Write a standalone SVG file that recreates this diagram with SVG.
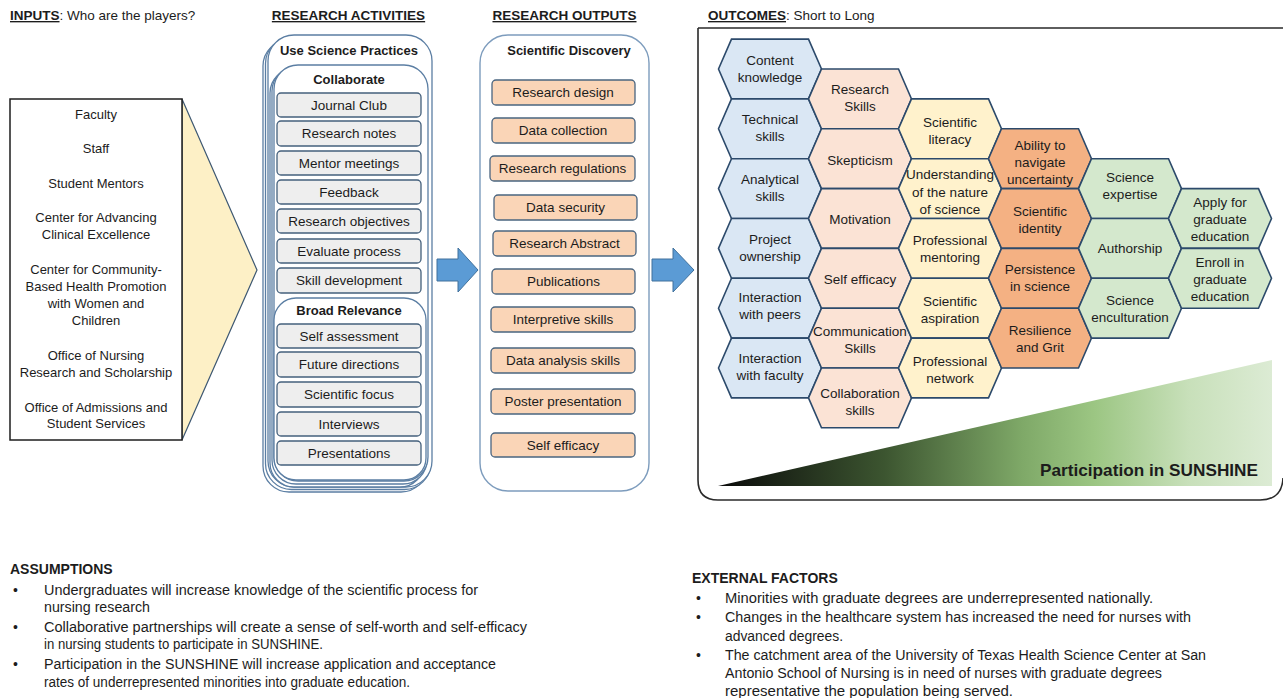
<svg xmlns="http://www.w3.org/2000/svg" xmlns:xlink="http://www.w3.org/1999/xlink" width="1283" height="698" viewBox="0 0 1283 698">
<style>
text{font-family:"Liberation Sans",Arial,sans-serif;fill:#1c1c1c}
.c{text-anchor:middle}
.b{font-weight:bold}
.f13{font-size:13px}
.f135{font-size:13.5px}
.f14{font-size:14px}
.u{text-decoration:underline}
.item{fill:#eeeeee;stroke:#44607c;stroke-width:1.3}
.out{fill:#fad5b7;stroke:#4a6580;stroke-width:1.3}
.frame{fill:#ffffff;stroke:#5b7ea3;stroke-width:1.3}
.hx{stroke:#2c4a6b;stroke-width:1.6}
.blue{fill:#dae7f4}
.peach{fill:#fbe3d5}
.yel{fill:#fff2cc}
.org{fill:#f4b183}
.grn{fill:#d4e8cd}
.arrow{fill:#5b9bd5;stroke:#41719c;stroke-width:1}
</style>
<defs>
<path id="hex" d="M-51.5,0 L-38.5,-29.9 L38.5,-29.9 L51.5,0 L38.5,29.9 L-38.5,29.9 Z"/>
<linearGradient id="ramp" gradientUnits="userSpaceOnUse" x1="718" y1="0" x2="1272" y2="0">
<stop offset="0" stop-color="#0a0a0a"/>
<stop offset="0.3" stop-color="#3c5530"/>
<stop offset="0.55" stop-color="#7fa968"/>
<stop offset="0.68" stop-color="#9cc683"/>
<stop offset="0.85" stop-color="#c8e0ba"/>
<stop offset="1" stop-color="#dcebd4"/>
</linearGradient>
</defs>
<rect width="1283" height="698" fill="#ffffff"/>

<!-- Titles -->
<text x="10" y="20" class="f135"><tspan class="b u">INPUTS</tspan>: Who are the players?</text>
<text x="348.5" y="20" class="f135 b u c">RESEARCH ACTIVITIES</text>
<text x="564.5" y="20" class="f135 b u c">RESEARCH OUTPUTS</text>
<text x="708" y="20" class="f135"><tspan class="b u">OUTCOMES</tspan>: Short to Long</text>

<!-- Inputs -->
<g id="inputs">
<polygon points="182,99 257,270 182,440" fill="#fdf0c6" stroke="#3e5872" stroke-width="1.2"/>
<rect x="10" y="99" width="172" height="341" fill="#ffffff" stroke="#1e1e1e" stroke-width="1.5"/>
<text class="f13 c" x="96" y="118.5">Faculty</text>
<text class="f13 c" x="96" y="152.5">Staff</text>
<text class="f13 c" x="96" y="187.5">Student Mentors</text>
<text class="f13 c" x="96" y="221.5">Center for Advancing</text>
<text class="f13 c" x="96" y="238.5">Clinical Excellence</text>
<text class="f13 c" x="96" y="273.5">Center for Community-</text>
<text class="f13 c" x="96" y="290.5">Based Health Promotion</text>
<text class="f13 c" x="96" y="307.5">with Women and</text>
<text class="f13 c" x="96" y="324.5">Children</text>
<text class="f13 c" x="96" y="359.5">Office of Nursing</text>
<text class="f13 c" x="96" y="376.5">Research and Scholarship</text>
<text class="f13 c" x="96" y="411.5">Office of Admissions and</text>
<text class="f13 c" x="96" y="428">Student Services</text>
</g>

<!-- Research activities -->
<g id="activities">
<rect class="frame" x="263" y="40" width="164" height="452" rx="26"/>
<rect class="frame" x="265.5" y="37.5" width="165" height="452" rx="26"/>
<rect class="frame" x="268" y="35" width="164" height="452" rx="26"/>
<text class="f13 b c" x="349" y="55">Use Science Practices</text>
<rect class="frame" x="270" y="69" width="154" height="418" rx="24"/>
<rect class="frame" x="272" y="67" width="155" height="417" rx="24"/>
<rect class="frame" x="274" y="65" width="154" height="416" rx="24"/>
<text class="f13 b c" x="349" y="84">Collaborate</text>
<rect class="frame" x="274" y="298" width="152" height="182" rx="22"/>
<text class="f13 b c" x="349" y="315">Broad Relevance</text>
</g>
<g id="act-journal-club"><rect class="item" x="277" y="93" width="144" height="24" rx="4"/><text class="f135 c" x="349" y="109.5">Journal Club</text></g>
<g id="act-research-notes"><rect class="item" x="277" y="121" width="144" height="25" rx="4"/><text class="f135 c" x="349" y="138">Research notes</text></g>
<g id="act-mentor-meetings"><rect class="item" x="277" y="151" width="144" height="24" rx="4"/><text class="f135 c" x="349" y="167.5">Mentor meetings</text></g>
<g id="act-feedback"><rect class="item" x="277" y="180" width="144" height="24" rx="4"/><text class="f135 c" x="349" y="196.5">Feedback</text></g>
<g id="act-research-objectives"><rect class="item" x="277" y="209" width="144" height="24" rx="4"/><text class="f135 c" x="349" y="225.5">Research objectives</text></g>
<g id="act-evaluate-process"><rect class="item" x="277" y="239" width="144" height="24" rx="4"/><text class="f135 c" x="349" y="255.5">Evaluate process</text></g>
<g id="act-skill-development"><rect class="item" x="277" y="268" width="144" height="25" rx="4"/><text class="f135 c" x="349" y="285">Skill development</text></g>
<g id="act-self-assessment"><rect class="item" x="277" y="324" width="144" height="24" rx="4"/><text class="f135 c" x="349" y="340.5">Self assessment</text></g>
<g id="act-future-directions"><rect class="item" x="277" y="352" width="144" height="25" rx="4"/><text class="f135 c" x="349" y="369">Future directions</text></g>
<g id="act-scientific-focus"><rect class="item" x="277" y="382" width="144" height="25" rx="4"/><text class="f135 c" x="349" y="399">Scientific focus</text></g>
<g id="act-interviews"><rect class="item" x="277" y="412" width="144" height="24" rx="4"/><text class="f135 c" x="349" y="428.5">Interviews</text></g>
<g id="act-presentations"><rect class="item" x="277" y="441" width="144" height="24" rx="4"/><text class="f135 c" x="349" y="457.5">Presentations</text></g>

<!-- Research outputs -->
<g id="outputs">
<rect x="480" y="35" width="169" height="456" rx="28" fill="#ffffff" stroke="#7d9cbd" stroke-width="1.4"/>
<text class="f13 b c" x="569" y="55">Scientific Discovery</text>
</g>
<g id="out-research-design"><rect class="out" x="492" y="80" width="143" height="25" rx="4"/><text class="f135 c" x="563" y="97">Research design</text></g>
<g id="out-data-collection"><rect class="out" x="492" y="118" width="143" height="25" rx="4"/><text class="f135 c" x="563" y="135">Data collection</text></g>
<g id="out-research-regulations"><rect class="out" x="490" y="156" width="145" height="25" rx="4"/><text class="f135 c" x="562.5" y="173">Research regulations</text></g>
<g id="out-data-security"><rect class="out" x="494" y="195" width="143" height="25" rx="4"/><text class="f135 c" x="565.5" y="212">Data security</text></g>
<g id="out-research-abstract"><rect class="out" x="493" y="231" width="143" height="25" rx="4"/><text class="f135 c" x="564.5" y="248">Research Abstract</text></g>
<g id="out-publications"><rect class="out" x="492" y="269" width="143" height="25" rx="4"/><text class="f135 c" x="563.5" y="286">Publications</text></g>
<g id="out-interpretive-skills"><rect class="out" x="491" y="307" width="144" height="25" rx="4"/><text class="f135 c" x="563" y="324">Interpretive skills</text></g>
<g id="out-data-analysis-skills"><rect class="out" x="491" y="348" width="144" height="25" rx="4"/><text class="f135 c" x="563" y="365">Data analysis skills</text></g>
<g id="out-poster-presentation"><rect class="out" x="491" y="389" width="144" height="25" rx="4"/><text class="f135 c" x="563" y="406">Poster presentation</text></g>
<g id="out-self-efficacy"><rect class="out" x="491" y="433" width="144" height="24" rx="4"/><text class="f135 c" x="563" y="449.5">Self efficacy</text></g>

<!-- Connectors -->
<g id="connectors">
<polygon class="arrow" points="437,259 458,259 458,248 478,270 458,292 458,281 437,281"/>
<polygon class="arrow" points="652,259 673,259 673,248 694,270 673,292 673,281 652,281"/>
</g>

<!-- Outcomes frame -->
<g id="outcomes">
<path d="M698,28 H1283 M1283,478 Q1282,500 1260,500 H718 Q698,500 698,480 V28" fill="none" stroke="#2a2a2a" stroke-width="1.6"/>
<polygon points="718,486 1272,360 1272,486" fill="url(#ramp)"/>
<text x="1258" y="476" class="b" font-size="17" text-anchor="end" textLength="218" lengthAdjust="spacingAndGlyphs">Participation in SUNSHINE</text>
</g>

<!-- Hexagons col 1 -->
<g id="hex-content-knowledge"><use xlink:href="#hex" href="#hex" x="770" y="69" class="hx blue"/><text class="f135 c" x="770" y="64.5">Content</text><text class="f135 c" x="770" y="81.5">knowledge</text></g>
<g id="hex-technical-skills"><use xlink:href="#hex" href="#hex" x="770" y="128.8" class="hx blue"/><text class="f135 c" x="770" y="124">Technical</text><text class="f135 c" x="770" y="141">skills</text></g>
<g id="hex-analytical-skills"><use xlink:href="#hex" href="#hex" x="770" y="188.6" class="hx blue"/><text class="f135 c" x="770" y="184">Analytical</text><text class="f135 c" x="770" y="201">skills</text></g>
<g id="hex-project-ownership"><use xlink:href="#hex" href="#hex" x="770" y="248.4" class="hx blue"/><text class="f135 c" x="770" y="243.5">Project</text><text class="f135 c" x="770" y="260.5">ownership</text></g>
<g id="hex-interaction-peers"><use xlink:href="#hex" href="#hex" x="770" y="308.2" class="hx blue"/><text class="f135 c" x="770" y="302">Interaction</text><text class="f135 c" x="770" y="319">with peers</text></g>
<g id="hex-interaction-faculty"><use xlink:href="#hex" href="#hex" x="770" y="368" class="hx blue"/><text class="f135 c" x="770" y="363">Interaction</text><text class="f135 c" x="770" y="380">with faculty</text></g>

<!-- Hexagons col 2 -->
<g id="hex-research-skills"><use xlink:href="#hex" href="#hex" x="860" y="98.9" class="hx peach"/><text class="f135 c" x="860" y="94">Research</text><text class="f135 c" x="860" y="111">Skills</text></g>
<g id="hex-skepticism"><use xlink:href="#hex" href="#hex" x="860" y="158.7" class="hx peach"/><text class="f135 c" x="860" y="164.5">Skepticism</text></g>
<g id="hex-motivation"><use xlink:href="#hex" href="#hex" x="860" y="218.5" class="hx peach"/><text class="f135 c" x="860" y="224">Motivation</text></g>
<g id="hex-self-efficacy"><use xlink:href="#hex" href="#hex" x="860" y="278.3" class="hx peach"/><text class="f135 c" x="860" y="284">Self efficacy</text></g>
<g id="hex-communication-skills"><use xlink:href="#hex" href="#hex" x="860" y="338.1" class="hx peach"/><text class="f135 c" x="860" y="335.5">Communication</text><text class="f135 c" x="860" y="352.5">Skills</text></g>
<g id="hex-collaboration-skills"><use xlink:href="#hex" href="#hex" x="860" y="397.9" class="hx peach"/><text class="f135 c" x="860" y="397.5">Collaboration</text><text class="f135 c" x="860" y="414.5">skills</text></g>

<!-- Hexagons col 3 -->
<g id="hex-scientific-literacy"><use xlink:href="#hex" href="#hex" x="950" y="128.8" class="hx yel"/><text class="f135 c" x="950" y="126.5">Scientific</text><text class="f135 c" x="950" y="143.5">literacy</text></g>
<g id="hex-understanding-nature"><use xlink:href="#hex" href="#hex" x="950" y="188.6" class="hx yel"/><text class="f135 c" x="950" y="179">Understanding</text><text class="f135 c" x="950" y="196.5">of the nature</text><text class="f135 c" x="950" y="213.5">of science</text></g>
<g id="hex-professional-mentoring"><use xlink:href="#hex" href="#hex" x="950" y="248.4" class="hx yel"/><text class="f135 c" x="950" y="244.5">Professional</text><text class="f135 c" x="950" y="261.5">mentoring</text></g>
<g id="hex-scientific-aspiration"><use xlink:href="#hex" href="#hex" x="950" y="308.2" class="hx yel"/><text class="f135 c" x="950" y="305.5">Scientific</text><text class="f135 c" x="950" y="322.5">aspiration</text></g>
<g id="hex-professional-network"><use xlink:href="#hex" href="#hex" x="950" y="368" class="hx yel"/><text class="f135 c" x="950" y="365.5">Professional</text><text class="f135 c" x="950" y="382.5">network</text></g>

<!-- Hexagons col 4 -->
<g id="hex-ability-uncertainty"><use xlink:href="#hex" href="#hex" x="1040" y="158.7" class="hx org"/><text class="f135 c" x="1040" y="149.5">Ability to</text><text class="f135 c" x="1040" y="166.5">navigate</text><text class="f135 c" x="1040" y="183.5">uncertainty</text></g>
<g id="hex-scientific-identity"><use xlink:href="#hex" href="#hex" x="1040" y="218.5" class="hx org"/><text class="f135 c" x="1040" y="215.5">Scientific</text><text class="f135 c" x="1040" y="232.5">identity</text></g>
<g id="hex-persistence"><use xlink:href="#hex" href="#hex" x="1040" y="278.3" class="hx org"/><text class="f135 c" x="1040" y="273.5">Persistence</text><text class="f135 c" x="1040" y="290.5">in science</text></g>
<g id="hex-resilience"><use xlink:href="#hex" href="#hex" x="1040" y="338.1" class="hx org"/><text class="f135 c" x="1040" y="334.5">Resilience</text><text class="f135 c" x="1040" y="351.5">and Grit</text></g>

<!-- Hexagons col 5 -->
<g id="hex-science-expertise"><use xlink:href="#hex" href="#hex" x="1130" y="188.6" class="hx grn"/><text class="f135 c" x="1130" y="181.5">Science</text><text class="f135 c" x="1130" y="198.5">expertise</text></g>
<g id="hex-authorship"><use xlink:href="#hex" href="#hex" x="1130" y="248.4" class="hx grn"/><text class="f135 c" x="1130" y="253">Authorship</text></g>
<g id="hex-science-enculturation"><use xlink:href="#hex" href="#hex" x="1130" y="308.2" class="hx grn"/><text class="f135 c" x="1130" y="304.5">Science</text><text class="f135 c" x="1130" y="321.5">enculturation</text></g>

<!-- Hexagons col 6 -->
<g id="hex-apply-graduate"><use xlink:href="#hex" href="#hex" x="1220" y="218.5" class="hx grn"/><text class="f135 c" x="1220" y="206.5">Apply for</text><text class="f135 c" x="1220" y="223.5">graduate</text><text class="f135 c" x="1220" y="240.5">education</text></g>
<g id="hex-enroll-graduate"><use xlink:href="#hex" href="#hex" x="1220" y="278.3" class="hx grn"/><text class="f135 c" x="1220" y="266.5">Enroll in</text><text class="f135 c" x="1220" y="283.5">graduate</text><text class="f135 c" x="1220" y="300.5">education</text></g>

<!-- Assumptions -->
<g id="assumptions">
<text x="10" y="574" class="f14 b">ASSUMPTIONS</text>
<text x="13" y="594.5" class="f14">•</text>
<text x="44" y="594.5" class="f14" textLength="434" lengthAdjust="spacingAndGlyphs">Undergraduates will increase knowledge of the scientific process for</text>
<text x="44" y="611.5" class="f14" textLength="106" lengthAdjust="spacingAndGlyphs">nursing research</text>
<text x="13" y="631.5" class="f14">•</text>
<text x="44" y="631.5" class="f14" textLength="483" lengthAdjust="spacingAndGlyphs">Collaborative partnerships will create a sense of self-worth and self-efficacy</text>
<text x="44" y="648.5" class="f14" textLength="279" lengthAdjust="spacingAndGlyphs">in nursing students to participate in SUNSHINE.</text>
<text x="13" y="668.5" class="f14">•</text>
<text x="44" y="668.5" class="f14" textLength="452" lengthAdjust="spacingAndGlyphs">Participation in the SUNSHINE will increase application and acceptance</text>
<text x="44" y="686.5" class="f14" textLength="366" lengthAdjust="spacingAndGlyphs">rates of underrepresented minorities into graduate education.</text>
</g>

<!-- External factors -->
<g id="external-factors">
<text x="692" y="583" class="f14 b">EXTERNAL FACTORS</text>
<text x="696" y="602.5" class="f14">•</text>
<text x="725" y="602.5" class="f14" textLength="428" lengthAdjust="spacingAndGlyphs">Minorities with graduate degrees are underrepresented nationally.</text>
<text x="696" y="621.5" class="f14">•</text>
<text x="725" y="621.5" class="f14" textLength="466" lengthAdjust="spacingAndGlyphs">Changes in the healthcare system has increased the need for nurses with</text>
<text x="725" y="640.5" class="f14" textLength="118" lengthAdjust="spacingAndGlyphs">advanced degrees.</text>
<text x="696" y="659.5" class="f14">•</text>
<text x="725" y="659.5" class="f14" textLength="481" lengthAdjust="spacingAndGlyphs">The catchment area of the University of Texas Health Science Center at San</text>
<text x="725" y="677.5" class="f14" textLength="437" lengthAdjust="spacingAndGlyphs">Antonio School of Nursing is in need of nurses with graduate degrees</text>
<text x="725" y="695.5" class="f14" textLength="288" lengthAdjust="spacingAndGlyphs">representative the population being served.</text>
</g>
</svg>
